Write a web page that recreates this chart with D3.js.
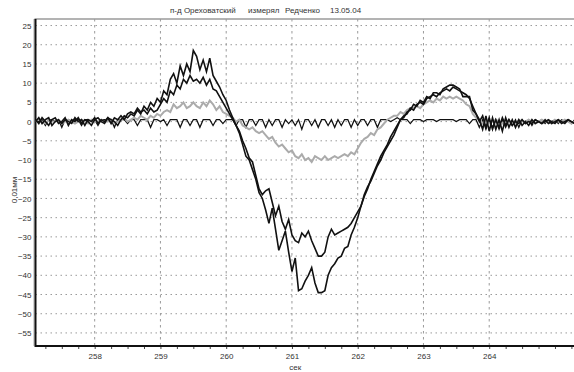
<!DOCTYPE html>
<html><head><meta charset="utf-8">
<script src="https://cdn.jsdelivr.net/npm/d3@7"></script>
<style>
html,body{margin:0;padding:0;background:#fff;}
svg{display:block;}
text{font-family:"Liberation Sans",Arial,sans-serif;fill:#333;}
</style></head><body>
<svg id="c" width="574" height="372"></svg>
<script>
// sampling of the recorded signals (seconds)
const t0 = 257.1, dt = 0.05;
const xTicks = [258, 259, 260, 261, 262, 263, 264];
const yTicks = [25, 20, 15, 10, 5, 0, -5, -10, -15, -20, -25, -30, -35, -40, -45, -50, -55];
const titleParts = ["п-д Ореховатский", "измерял", "Редченко", "13.05.04"];
const xLabel = "сек", yLabel = "0,01мм";

// series (0.01 mm)
const seriesA = [
 0.5,-0.5,1,0,-1,0.5,1,-0.5,0,1,
 -1,0.5,0,1,-0.5,0.5,0,-1,0.5,1,
 0,-0.5,1,0.5,0,-1,0.5,1.5,1,2,
 1.5,3,2,4,3,5,4,6,5,8,
 7,11,12.5,10,14.5,12,15,13,18.5,17,
 13.5,16,13,16.5,12,10.5,9,7,5.5,3,
 1,-1,-3,-6,-9,-10,-12.5,-15,-18.5,-20,
 -23,-26.5,-22.5,-28,-33.5,-31,-28.5,-34,-39,-35.5,
 -44,-43.5,-41.5,-40,-38,-42,-44.5,-44.5,-44,-40,
 -38,-37,-35.5,-35,-33,-32.5,-29.5,-27.5,-25,-22,
 -19,-17,-15.5,-13.5,-11.5,-10,-8,-6.5,-5,-3.5,
 -1.5,0.5,1,2.5,3,4.5,4,5.5,5,6.5,
 6,7.5,7.5,7,8.5,9,9.5,9.5,9,8.5,
 6.5,6.5,6.5,3,2,0.5,-2,1.5,-2.5,1,
 -2,0.5,-2.5,1,-1.5,0.5,-1.5,0.5,-1,0,
 -1,0.5,-0.5,0,-0.5,0.5,-0.5,0,-0.5,0.5,
 0,-0.5,0.5,0,-0.5
];
const seriesB = [
 0,1,-0.5,0.5,1,-1,0,0.5,-0.5,0.5,
 0,-0.5,1,0,0.5,-1,0.5,0,1,-0.5,
 0.5,0,1,-0.5,1,0.5,1.5,0.5,2,2.5,
 2,3.5,2.5,3,2,3.5,2.5,3,4.5,6,
 5,8,7,9.5,8.5,11,10,12,10.5,11,
 10,11.5,9.5,11,8.5,8,6.5,5,3.5,2,
 0.5,-1,-2.5,-5,-7,-9.5,-10.5,-14,-17.5,-19,
 -18,-17.5,-21,-24.5,-22,-26,-28,-25.5,-29.5,-31,
 -31.5,-29,-30,-28.5,-31,-33,-35,-35,-34,-30,
 -28,-29.5,-29,-28.5,-28,-27.5,-26.5,-25,-23.5,-22,
 -19.5,-17.5,-15,-13,-11,-9,-7.5,-6,-4,-2.5,
 -1,0.5,1.5,2,3.5,3,4.5,5,4.5,6,
 6.5,7,6.5,7.5,8,8.5,8,9,8.5,8,
 7.5,7,6,4,2,0,1.5,-1.5,1,-2,
 0.5,-1.5,1,-1,0.5,-1,0,-0.5,0.5,-0.5,
 0,-0.5,0.5,0,-0.5,0,0.5,-0.5,0,0.5,
 -0.5,0,0.5,0,-0.5
];
const seriesGray = [
 0,0.5,0,-0.5,0.5,0,0,0.5,-0.5,0,
 0.5,0,-0.5,0,0.5,0,-0.5,0.5,0,0,
 0.5,0,0,0.5,-0.5,0,0.5,1,0,0.5,
 1,0.5,1.5,1,0.5,1.5,1,2,1.5,2.5,
 3,2.5,4.5,3.5,4,5,3.5,4,5,4,
 3.5,5,4,5.5,4.5,3,4,2.5,2,1.5,
 1,0,0.5,-1,-1.5,-2,-1.5,-2.5,-3,-2.5,
 -3.5,-4.5,-4,-5.5,-6.5,-6,-7,-8,-7.5,-9,
 -9.5,-8.5,-10,-9.5,-10.5,-9,-9.5,-10,-9,-10,
 -9.5,-9,-9.5,-9,-8.5,-9,-8,-8.5,-7,-5.5,
 -4.5,-4,-3,-3.5,-2,-1.5,-0.5,0.5,1,1.5,
 1.5,2.5,2,3,3.5,3.5,4,3.5,4.5,5,
 5.5,5,6,5.5,6.5,6,6.5,6,6.5,6,
 5.5,4.5,4,2,1,0.5,-0.5,0.5,-0.5,0,
 0.5,0,-0.5,0.5,0,0,-0.5,0.5,0,0,
 0.5,0,-0.5,0,0.5,0,0,-0.5,0.5,0,
 0,0.5,0,-0.5,0
];
const seriesRef = [
 0.5,0,0.5,-1,0.5,0.5,0,0.5,-1.5,0.5,
 0.5,0,0.5,0.5,-1,0.5,0.5,0,0.5,-1,
 0.5,0.5,0,0.5,-1.5,0.5,0.5,0.5,-0.5,0.5,
 0.5,-1,0.5,0.5,0.5,-1.5,0.5,0.5,0,0.5,
 -1,0.5,0.5,0.5,-1.5,0.5,0.5,-1,0.5,0.5,
 -1.5,0.5,0.5,0.5,-1,0.5,0.5,-0.5,0.5,0.5,
 0.5,-1,0.5,0.5,-1.5,0.5,0.5,-1,0.5,0.5,
 -1.5,0.5,-1,0.5,0.5,-1.5,0.5,-0.5,0.5,-1,
 0.5,-2,0.5,0.5,-1,0.5,-1.5,0.5,0.5,-1,
 0.5,-1.5,0.5,-1,0.5,0.5,-1.5,0.5,-1,0.5,
 0.5,-1,0.5,0.5,-1.5,0.5,0.5,0.5,0,0.5,
 1,0.5,0.5,0.5,-0.5,0.5,0.5,0.5,0,0.5,
 0.5,0.5,0,0.5,0.5,0.5,0.5,0.5,0,0.5,
 0.5,0.5,-0.5,0.5,0.5,-1.5,0.5,-2,0.5,-1.5,
 0.5,-2,0.5,-1.5,0.5,-1,0.5,-1.5,0.5,-0.5,
 0.5,-1,0.5,0,0.5,-0.5,0.5,0,0.5,-0.5,
 0.5,0,0.5,-0.5,0.5
];

const svg = d3.select("#c");
const L = 35.5, R = 574.7, T = 19, B = 346;
const x = d3.scaleLinear().domain([257.1, 265.3]).range([L, R]);
const y = d3.scaleLinear().domain([-58.4, 26.7]).range([B, T]);
const FS = 8;

// title
const titleX = [170, 248, 285, 330];
titleParts.forEach((s, i) => {
  svg.append("text").attr("x", titleX[i]).attr("y", 13).attr("font-size", FS)
    .attr("fill", "#222").text(s);
});

// frame
svg.append("line").attr("x1", L - 1).attr("x2", 574).attr("y1", T).attr("y2", T)
  .attr("stroke", "#9a9a9a").attr("stroke-width", 1.5);
svg.append("line").attr("x1", L - 1.5).attr("x2", L - 1.5).attr("y1", T).attr("y2", B)
  .attr("stroke", "#aaa").attr("stroke-width", 1);

// grid
const grid = svg.append("g");
grid.selectAll("line.h").data(yTicks).join("line")
  .attr("x1", L).attr("x2", 574).attr("y1", d => y(d)).attr("y2", d => y(d))
  .attr("stroke", "#9a9a9a").attr("stroke-width", 1).attr("stroke-dasharray", "1.5,3.5");
grid.selectAll("line.v").data(xTicks).join("line")
  .attr("x1", d => x(d)).attr("x2", d => x(d)).attr("y1", T).attr("y2", B)
  .attr("stroke", "#9a9a9a").attr("stroke-width", 1).attr("stroke-dasharray", "2.5,3.5");

// y axis
const yAxis = svg.append("g").attr("transform", `translate(${L},0)`)
  .call(d3.axisLeft(y).tickValues(yTicks).tickSize(0).tickPadding(4));
yAxis.select(".domain").remove();
yAxis.selectAll("text").attr("font-size", FS).attr("fill", "#333")
  .attr("font-family", "Liberation Sans, Arial, sans-serif");

// x axis
const xAxis = svg.append("g").attr("transform", `translate(0,${B})`)
  .call(d3.axisBottom(x).tickValues(xTicks).tickSize(0).tickPadding(7).tickFormat(d3.format("d")));
xAxis.select(".domain").remove();
xAxis.selectAll("text").attr("font-size", FS).attr("fill", "#333")
  .attr("font-family", "Liberation Sans, Arial, sans-serif");
const minor = svg.append("g").attr("transform", `translate(0,${B})`)
  .call(d3.axisBottom(x).tickValues(d3.range(257.25, 265.3, 0.25)).tickSize(3).tickFormat(""));
minor.select(".domain").remove();
minor.selectAll("line").attr("stroke", "#444");

// axis lines
svg.append("line").attr("x1", L).attr("x2", L).attr("y1", T).attr("y2", B + 1)
  .attr("stroke", "#111").attr("stroke-width", 2);
svg.append("line").attr("x1", L).attr("x2", 574).attr("y1", B).attr("y2", B)
  .attr("stroke", "#111").attr("stroke-width", 2);

// labels
svg.append("text").attr("x", x(261.05)).attr("y", 370).attr("text-anchor", "middle")
  .attr("font-size", FS).attr("fill", "#222").text(xLabel);
svg.append("text").attr("transform", "translate(17,190) rotate(-90)")
  .attr("text-anchor", "middle").attr("font-size", FS).attr("fill", "#222").text(yLabel);

// data lines
svg.append("clipPath").attr("id", "clip").append("rect")
  .attr("x", L).attr("y", T).attr("width", 574 - L).attr("height", B - T);
const plot = svg.append("g").attr("clip-path", "url(#clip)");
const line = d3.line().x((d, i) => x(t0 + i * dt)).y(d => y(d));
plot.append("path").datum(seriesRef).attr("d", line).attr("fill", "none")
  .attr("stroke", "#111").attr("stroke-width", 1.2);
plot.append("path").datum(seriesGray).attr("d", line).attr("fill", "none")
  .attr("stroke", "#ababab").attr("stroke-width", 2);
plot.append("path").datum(seriesB).attr("d", line).attr("fill", "none")
  .attr("stroke", "#111").attr("stroke-width", 1.6);
plot.append("path").datum(seriesA).attr("d", line).attr("fill", "none")
  .attr("stroke", "#111").attr("stroke-width", 1.6);
</script>
</body></html>
